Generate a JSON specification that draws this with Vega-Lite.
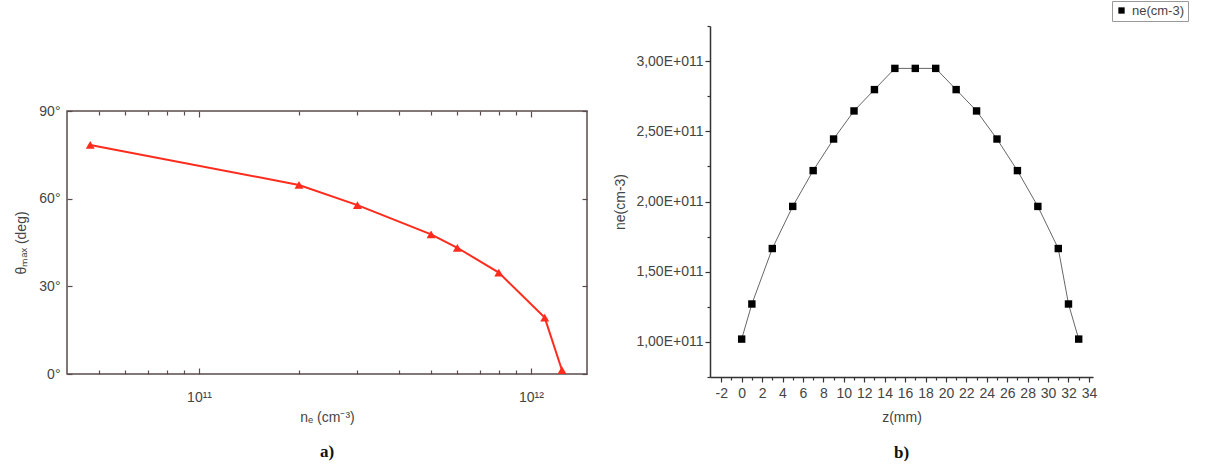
{
  "$schema": "https://vega.github.io/schema/vega-lite/v6.json",
  "padding": {"left": 14, "top": 0, "right": 0, "bottom": 0},
  "background": "white",
  "config": {
    "font": "Liberation Sans",
    "view": {"stroke": null},
    "axis": {"labelFont": "Liberation Sans", "titleFont": "Liberation Sans", "labelColor": "#444", "titleColor": "#444", "titleFontWeight": "normal", "grid": false}
  },
  "datasets": {
    "thetamax": [
      {"ne": 4.7e10, "theta": 78.4},
      {"ne": 2e11, "theta": 64.7},
      {"ne": 3e11, "theta": 57.8},
      {"ne": 5e11, "theta": 47.8},
      {"ne": 6e11, "theta": 43.2},
      {"ne": 8e11, "theta": 34.7},
      {"ne": 1.1e12, "theta": 19.3},
      {"ne": 1.24e12, "theta": 1.3}
    ],
    "profile": [
      {"z": 0, "ne": 1.02e11, "series": "ne(cm-3)"},
      {"z": 1, "ne": 1.27e11, "series": "ne(cm-3)"},
      {"z": 3, "ne": 1.665e11, "series": "ne(cm-3)"},
      {"z": 5, "ne": 1.965e11, "series": "ne(cm-3)"},
      {"z": 7, "ne": 2.22e11, "series": "ne(cm-3)"},
      {"z": 9, "ne": 2.445e11, "series": "ne(cm-3)"},
      {"z": 11, "ne": 2.645e11, "series": "ne(cm-3)"},
      {"z": 13, "ne": 2.797e11, "series": "ne(cm-3)"},
      {"z": 15, "ne": 2.948e11, "series": "ne(cm-3)"},
      {"z": 17, "ne": 2.948e11, "series": "ne(cm-3)"},
      {"z": 19, "ne": 2.948e11, "series": "ne(cm-3)"},
      {"z": 21, "ne": 2.797e11, "series": "ne(cm-3)"},
      {"z": 23, "ne": 2.645e11, "series": "ne(cm-3)"},
      {"z": 25, "ne": 2.445e11, "series": "ne(cm-3)"},
      {"z": 27, "ne": 2.22e11, "series": "ne(cm-3)"},
      {"z": 29, "ne": 1.965e11, "series": "ne(cm-3)"},
      {"z": 31, "ne": 1.665e11, "series": "ne(cm-3)"},
      {"z": 32, "ne": 1.27e11, "series": "ne(cm-3)"},
      {"z": 33, "ne": 1.02e11, "series": "ne(cm-3)"}
    ]
  },
  "spacing": 24,
  "hconcat": [
    {
      "spacing": 0,
      "vconcat": [
        {"height": 77, "width": 10, "data": {"values": []}, "mark": "point"},
        {
          "width": 520,
          "height": 263,
          "data": {"name": "thetamax"},
          "view": {"stroke": "#5a4c4c", "strokeWidth": 1.5},
          "title": {"text": "a)", "orient": "bottom", "font": "Liberation Serif", "fontWeight": "bold", "fontSize": 17, "color": "#111", "offset": 20},
          "resolve": {"axis": {"x": "independent", "y": "independent"}},
          "layer": [
            {
              "mark": {"type": "line", "color": "#ff2b1c", "strokeWidth": 2},
              "encoding": {
                "x": {
                  "field": "ne", "type": "quantitative",
                  "scale": {"type": "log", "domain": [4e10, 1.475e12], "nice": false},
                  "axis": {
                    "orient": "bottom", "title": "nₑ (cm⁻³)", "titleFontSize": 14, "titlePadding": 6,
                    "domain": false, "tickColor": "#5a4c4c", "tickWidth": 1.2,
                    "values": [5e10, 6e10, 7e10, 8e10, 9e10, 1e11, 2e11, 3e11, 4e11, 5e11, 6e11, 7e11, 8e11, 9e11, 1e12],
                    "tickSize": {"condition": {"test": "datum.value == 1e11 || datum.value == 1e12", "value": -6}, "value": -4},
                    "labelExpr": "datum.value == 1e11 ? '10¹¹' : datum.value == 1e12 ? '10¹²' : ''",
                    "labelFontSize": 14, "labelPadding": 22
                  }
                },
                "y": {
                  "field": "theta", "type": "quantitative",
                  "scale": {"domain": [0, 90], "nice": false},
                  "axis": {
                    "orient": "left", "title": "θₘₐₓ (deg)", "titleFontSize": 14, "titlePadding": 10,
                    "domain": false, "tickColor": "#5a4c4c", "tickWidth": 1.2,
                    "values": [0, 30, 60, 90], "tickSize": -5,
                    "labelExpr": "datum.value + '°'", "labelFontSize": 14, "labelPadding": 12
                  }
                }
              }
            },
            {
              "mark": {"type": "point", "shape": "triangle-up", "filled": true, "color": "#ff2b1c", "size": 80, "opacity": 1},
              "encoding": {
                "x": {"field": "ne", "type": "quantitative", "axis": null},
                "y": {"field": "theta", "type": "quantitative", "axis": null}
              }
            },
            {
              "mark": {"type": "point", "opacity": 0},
              "encoding": {
                "x": {
                  "field": "ne", "type": "quantitative",
                  "axis": {
                    "orient": "top", "title": null, "labels": false, "domain": false,
                    "tickColor": "#5a4c4c", "tickWidth": 1.2,
                    "values": [5e10, 6e10, 7e10, 8e10, 9e10, 1e11, 2e11, 3e11, 4e11, 5e11, 6e11, 7e11, 8e11, 9e11, 1e12],
                    "tickSize": {"condition": {"test": "datum.value == 1e11 || datum.value == 1e12", "value": -6}, "value": -4}
                  }
                },
                "y": {
                  "field": "theta", "type": "quantitative",
                  "axis": {
                    "orient": "right", "title": null, "labels": false, "domain": false,
                    "tickColor": "#5a4c4c", "tickWidth": 1.2, "values": [0, 30, 60, 90], "tickSize": -5
                  }
                }
              }
            }
          ]
        }
      ]
    },
    {
      "width": 383,
      "height": 351,
      "data": {"name": "profile"},
      "title": {"text": "b)", "orient": "bottom", "font": "Liberation Serif", "fontWeight": "bold", "fontSize": 17, "color": "#111", "offset": 21},
      "encoding": {
        "x": {
          "field": "z", "type": "quantitative",
          "scale": {"domain": [-3.1, 34.4], "nice": false, "zero": false},
          "axis": {
            "title": "z(mm)", "titleFontSize": 14, "titlePadding": 10,
            "domainColor": "#333", "domainWidth": 1.5, "tickColor": "#333", "tickWidth": 1.2,
            "values": [-2, -1, 0, 1, 2, 3, 4, 5, 6, 7, 8, 9, 10, 11, 12, 13, 14, 15, 16, 17, 18, 19, 20, 21, 22, 23, 24, 25, 26, 27, 28, 29, 30, 31, 32, 33, 34],
            "tickSize": {"condition": {"test": "datum.value % 2 == 0", "value": 5}, "value": 3},
            "labelExpr": "datum.value % 2 == 0 ? '' + datum.value : ''",
            "labelFontSize": 14, "labelPadding": 4, "labelFlush": false, "labelOverlap": false
          }
        },
        "y": {
          "field": "ne", "type": "quantitative",
          "scale": {"domain": [0.75e11, 3.25e11], "nice": false, "zero": false},
          "axis": {
            "title": "ne(cm-3)", "titleFontSize": 14, "titlePadding": 8,
            "domainColor": "#333", "domainWidth": 1.5, "tickColor": "#333", "tickWidth": 1.2,
            "values": [0.75e11, 1e11, 1.25e11, 1.5e11, 1.75e11, 2e11, 2.25e11, 2.5e11, 2.75e11, 3e11, 3.25e11],
            "tickSize": {"condition": {"test": "datum.value % 5e10 == 0", "value": 5}, "value": 3},
            "labelExpr": "datum.value % 5e10 == 0 ? replace(format(datum.value / 1e11, '.2f'), '.', ',') + 'E+011' : ''",
            "labelFontSize": 14, "labelPadding": 2, "labelOverlap": false
          }
        }
      },
      "layer": [
        {"mark": {"type": "line", "color": "#666", "strokeWidth": 1}},
        {
          "mark": {"type": "point", "shape": "square", "filled": true, "size": 55, "opacity": 1},
          "encoding": {
            "color": {
              "field": "series", "type": "nominal",
              "scale": {"range": ["black"]},
              "legend": {
                "title": null, "orient": "none", "legendX": 1045, "legendY": -25,
                "strokeColor": "#999", "padding": 3, "labelFontSize": 13, "labelColor": "#444",
                "symbolType": "square", "symbolSize": 40
              }
            }
          }
        }
      ]
    }
  ]
}
